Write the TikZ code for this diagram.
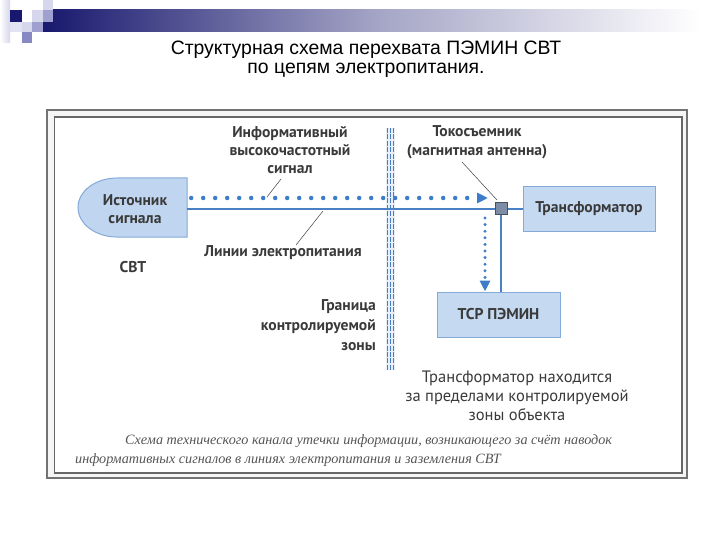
\documentclass[tikz,border=0pt]{standalone}
\usepackage{fontspec}
\setmainfont{PT Sans}
\newfontfamily\titlefont{Liberation Sans}
\newfontfamily\capfont{Liberation Serif}
\usetikzlibrary{arrows.meta}
\definecolor{navy}{RGB}{24,24,110}
\definecolor{lavA}{RGB}{214,214,236}
\definecolor{lavB}{RGB}{160,160,208}
\definecolor{lavC}{RGB}{136,136,196}
\definecolor{lineblue}{RGB}{74,128,196}
\definecolor{dotblue}{RGB}{60,124,200}
\definecolor{boxfill}{RGB}{197,217,241}
\definecolor{boxdraw}{RGB}{132,170,216}
\definecolor{srcfill}{RGB}{192,213,240}
\definecolor{txtgray}{RGB}{58,58,58}
\definecolor{capgray}{RGB}{85,85,85}
\definecolor{tapfill}{RGB}{125,141,166}
\definecolor{tapdraw}{RGB}{72,80,94}
\definecolor{bandblue}{RGB}{70,125,200}
\tikzset{
  lbl/.style={text=txtgray, font=\fontsize{15.6}{18.3}\selectfont\bfseries, inner sep=0pt, align=center},
  plain/.style={text=txtgray, font=\fontsize{16.5}{19}\selectfont, inner sep=0pt, align=center},
  boxnode/.style={draw=boxdraw, fill=boxfill, line width=1pt, text=txtgray, font=\fontsize{15.6}{18}\selectfont\bfseries},
  tapnode/.style={draw=tapdraw, fill=tapfill, line width=1pt, minimum size=12pt, inner sep=0pt},
  power/.style={draw=lineblue, line width=2pt},
  dotsH/.style={draw=dotblue, line width=4.5pt, line cap=round, dash pattern=on 0pt off 12pt},
  dotsV/.style={draw=dotblue, line width=3.3pt, line cap=round, dash pattern=on 0pt off 6.6pt},
  leader/.style={draw=black!75, line width=0.5pt},
  bound/.style={draw=bandblue, line width=1.8pt, dash pattern=on 5pt off 1.4pt},
  capstyle/.style={text=capgray, font=\capfont\itshape\fontsize{14.2}{16}\selectfont, inner sep=0pt},
  tip/.style={-{Triangle[length=11pt,width=10pt]}}
}
\begin{document}
\begin{tikzpicture}[x=1pt,y=-1pt]
\useasboundingbox (0,0) rectangle (720,540);
\fill[white] (0,0) rectangle (720,540);
% header decoration
\shade[left color=navy, right color=white, middle color=navy!40!white] (43,10) rectangle (700,32);
\shade[left color=white, right color=lavA] (0,0) rectangle (10,43);
\fill[navy] (10,10) rectangle (22,22);
\fill[lavA!70!white] (10,22) rectangle (22,32);
\fill[lavA] (32,10) rectangle (43,22);
\fill[lavA] (43,0) rectangle (53,10);
\fill[lavB] (43,10) rectangle (53,22);
\fill[lavA] (22,22) rectangle (32,32);
\fill[lavB] (32,22) rectangle (43,32);
\fill[lavC] (22,32) rectangle (32,43);
% title
\node[font=\titlefont\fontsize{19.4}{21}\selectfont, anchor=base, inner sep=0pt] (t1) at (366,55) {Структурная схема перехвата ПЭМИН СВТ};
\node[font=\titlefont\fontsize{19.4}{21}\selectfont, anchor=base, inner sep=0pt] (t2) at (366,74) {по цепям электропитания.};
% frame
\fill[black!4] (47,110) rectangle (687,478);
\fill[white] (54.5,117) rectangle (682,473);
\draw[black!55, line width=1.3pt] (47,110) rectangle (687,478);
\draw[black!60, line width=1.3pt] (54.5,117) rectangle (682,473);
% boundary
\coordinate (bTop) at (390,128);
\coordinate (bBot) at (390,370);
\fill[bandblue!12] ([xshift=-4pt]bTop) rectangle ([xshift=4.5pt]bBot);
\draw[bound] ([xshift=-2.6pt]bTop) -- ([xshift=-2.6pt]bBot);
\draw[bound, line width=1.4pt] ([xshift=0.5pt]bTop) -- ([xshift=0.5pt]bBot);
\draw[bound, line width=1.4pt] ([xshift=3.2pt]bTop) -- ([xshift=3.2pt]bBot);
% source shape
\node[minimum width=109pt, minimum height=59pt, inner sep=0pt] (src) at (132.5,207.5) {};
\filldraw[fill=srcfill, draw=boxdraw, line width=1pt] (187,178) -- (117,178) .. controls (95.5,178) and (78,191.2) .. (78,207.5) .. controls (78,223.8) and (95.5,237) .. (117,237) -- (187,237) -- cycle;
\node[lbl] (srct) at (135,209) {Источник\\сигнала};
% boxes
\node[boxnode, minimum width=132pt, minimum height=45pt] (tr) at (589,209) {Трансформатор};
\node[boxnode, minimum width=123pt, minimum height=45pt] (tsr) at (498.5,314.5) {ТСР ПЭМИН};
\node[tapnode] (tap) at (501,209) {};
% power lines
\draw[power] ([yshift=-1.5pt]src.east) -- (tap.west);
\draw[power] (tap.east) -- (tr.west);
\draw[power] (tap.south) -- (tap.south |- tsr.north);
\node[tapnode] at (tap) {};
% signal dotted lines
\coordinate (sigEnd) at (488,198);
\draw[dotsH, tip] ([xshift=4pt, yshift=9.5pt]src.east) -- (sigEnd);
\coordinate (dv1) at (485,218);
\draw[dotsV, tip] (dv1) -- (dv1 |- tsr.north);
% labels
\node[lbl] (info) at (290,150) {Информативный\\высокочастотный\\сигнал};
\coordinate (infoA) at (281,179);
\coordinate (infoB) at (267,197);
\draw[leader] (infoA) -- (infoB);
\node[lbl] (pwr) at (283,253) {Линии электропитания};
\coordinate (pwrA) at (296,245);
\coordinate (pwrB) at (323,211);
\draw[leader] (pwrA) -- (pwrB);
\node[lbl] (svt) at (133,267) {СВТ};
\node[lbl, align=right, anchor=east, font=\fontsize{15.6}{20}\selectfont\bfseries] (gran) at (376,325) {Граница\\контролируемой\\зоны};
\node[lbl, font=\fontsize{15.6}{19}\selectfont\bfseries] (tok) at (477,142.5) {Токосъемник\\(магнитная антенна)};
\coordinate (tokA) at (462,162);
\coordinate (tokB) at (497,200);
\draw[leader] (tokA) -- (tokB);
\node[plain] (note) at (517,396) {Трансформатор находится\\за пределами контролируемой\\зоны объекта};
% caption
\node[capstyle, anchor=base west] (cap1) at (125,444) {Схема технического канала утечки информации, возникающего за счёт наводок};
\node[capstyle, anchor=base west] (cap2) at (75,463) {информативных сигналов в линиях электропитания и заземления СВТ};
\end{tikzpicture}
\end{document}
